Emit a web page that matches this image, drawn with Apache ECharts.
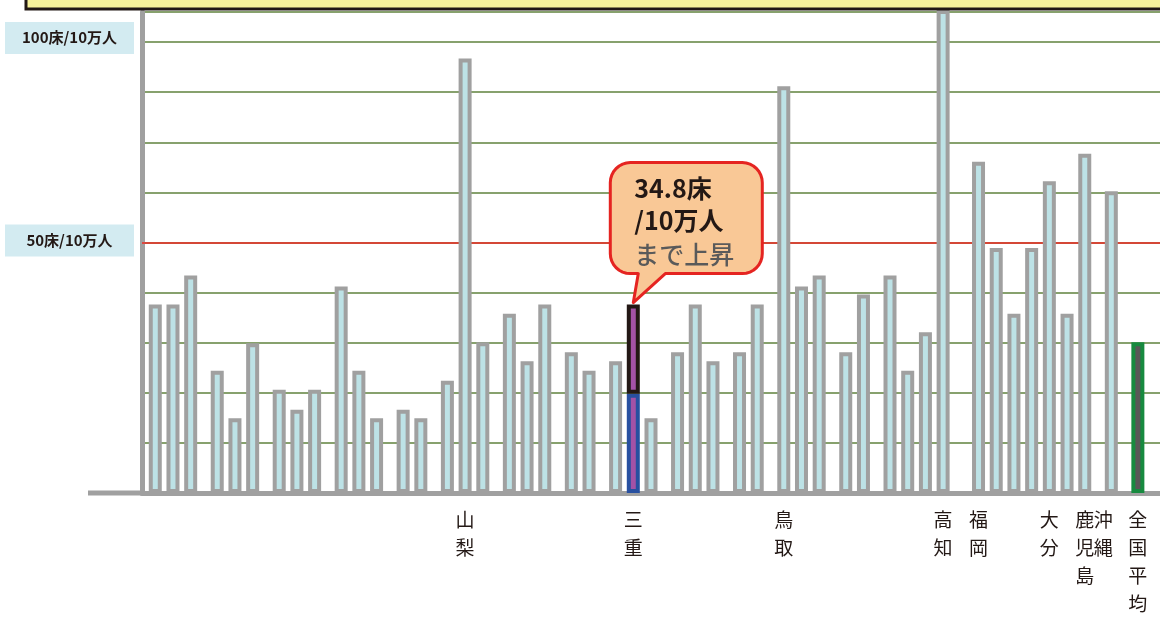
<!DOCTYPE html>
<html><head><meta charset="utf-8">
<script src="https://cdn.jsdelivr.net/npm/echarts@6/dist/echarts.min.js"></script>
<style>html,body{margin:0;padding:0;background:#fff;}#c{width:1160px;height:618px;}</style>
</head><body><div id="c"></div>
<script>
// ---- data ----
const barLabels = ['', '', '', '', '', '', '', '', '', '', '', '', '', '', '', '山梨', '', '', '', '', '', '', '', '三重', '', '', '', '', '', '', '鳥取', '', '', '', '', '', '', '', '高知', '福岡', '', '', '', '大分', '', '鹿児島', '沖縄', '全国平均'];
const bedValues = [37.6, 37.6, 43.4, 24.4, 14.9, 29.9, 20.6, 16.6, 20.6, 41.2, 24.4, 14.9, 16.6, 14.9, 22.4, 86.7, 30.1, 35.8, 26.3, 37.6, 28.1, 24.4, 26.3, 37.6, 14.9, 28.1, 37.6, 26.3, 28.1, 37.6, 81.2, 41.2, 43.4, 28.1, 39.6, 43.4, 24.4, 32.1, 110, 66.1, 48.9, 35.8, 48.9, 62.2, 35.8, 67.7, 60.2];
const nationalAverage = 30.1;
const mieIndex = 23;
const mieBefore = 19.8;
const mieAfter = 37.6;
const groupSizes = [3, 3, 3, 3, 2, 3, 3, 2, 3, 3, 2, 3, 2, 4, 7, 1, 1];
const yTickLabels = { 50: '50床/10万人', 90: '100床/10万人' };
const calloutLines = ['34.8床', '/10万人', 'まで上昇'];

// ---- layout: half-slot category positions ----
const positions = [];
let p = 1;
groupSizes.forEach((n, g) => {
  for (let k = 0; k < n; k++) { positions.push(p); if (k < n - 1) p += 2; }
  p += (g === 13 ? 4 : 3);
});
const N = 115;
const cats = new Array(N).fill('');
barLabels.forEach((l, i) => {
  if (!l) return;
  cats[positions[i]] = (l === '沖縄') ? { value: l, textStyle: { padding: [0, 16, 0, 0] } } : l;
});
const gray = new Array(N).fill(null);
const mieLow = new Array(N).fill(null);
const mieHigh = new Array(N).fill(null);
const avg = new Array(N).fill(null);
bedValues.forEach((v, i) => { if (i !== mieIndex) gray[positions[i]] = v; });
mieLow[positions[mieIndex]] = mieBefore;
mieHigh[positions[mieIndex]] = +(mieAfter - mieBefore).toFixed(1);
avg[positions[47]] = nationalAverage;

const FONT = '"Noto Sans CJK JP", "Noto Sans", sans-serif';
const chart = echarts.init(document.getElementById('c'));
const common = { type: 'bar', barWidth: 13, barGap: '-100%', animation: false };
chart.setOption({
  animation: false,
  grid: { left: 142, right: -4, top: 12, bottom: 121, containLabel: false },
  xAxis: {
    type: 'category', data: cats,
    axisLine: { show: true, lineStyle: { color: '#a0a0a0', width: 5 } },
    axisTick: { show: false },
    axisLabel: {
      interval: 0, margin: 13, fontSize: 19, lineHeight: 28, color: '#231815', fontFamily: FONT,
      formatter: v => v ? v.split('').join('\n') : ''
    },
    splitLine: { show: false }
  },
  yAxis: {
    type: 'value', min: 0, max: 96, interval: 10,
    axisLine: { show: true, lineStyle: { color: '#a0a0a0', width: 5 } },
    axisTick: { show: false },
    splitLine: { show: true, lineStyle: { color: '#5f823d', width: 1.5 } },
    axisLabel: {
      margin: 8, fontFamily: FONT,
      formatter: v => yTickLabels[v] ? '{b|' + yTickLabels[v] + '}\n{' + (v === 90 ? 's' : 't') + '| }' : '',
      rich: {
        b: { backgroundColor: '#d3ebf1', width: 105, align: 'center', padding: [8, 12, 9, 12], lineHeight: 16,
          fontSize: 15, fontWeight: 'bold', color: '#231815', fontFamily: FONT },
        s: { fontSize: 1, lineHeight: 8, height: 8 },
        t: { fontSize: 1, lineHeight: 4, height: 4 }
      }
    }
  },
  series: [
    { name: 'line50', type: 'line', data: [], z: 1, animation: false,
      markLine: { silent: true, symbol: 'none', z: 1, animation: false, label: { show: false },
        lineStyle: { color: '#ee2a24', width: 1.5, type: 'solid' }, data: [{ yAxis: 50 }] } },
    { ...common, name: 'prefs', data: gray, itemStyle: { color: '#bde2e6', borderColor: '#a0a0a0', borderWidth: 4 } },
    { ...common, name: 'mieLow', stack: 'mie', data: mieLow, itemStyle: { color: '#a452a6', borderColor: '#2850a0', borderWidth: 4 } },
    { ...common, name: 'mieHigh', stack: 'mie', data: mieHigh, itemStyle: { color: '#a452a6', borderColor: '#231815', borderWidth: 4 } },
    { ...common, name: 'avg', data: avg, itemStyle: { color: '#595757', borderColor: '#178a3f', borderWidth: 4 } }
  ]
});

// ---- decorations positioned from the chart's own scale ----
const tip = chart.convertToPixel({ xAxisIndex: 0, yAxisIndex: 0 }, [positions[mieIndex], mieAfter]);
const tx = tip[0], ty = tip[1] - 2;
const L = tx - 23, T = ty - 140, W = 152, H = 111, r = 20;
function arc(cx, cy, a0, a1) {
  const pts = [];
  for (let s = 0; s <= 8; s++) {
    const a = a0 + (a1 - a0) * s / 8;
    pts.push([cx + r * Math.cos(a), cy + r * Math.sin(a)]);
  }
  return pts;
}
const PI = Math.PI;
const bubble = [].concat(
  arc(L + r, T + r, PI, 1.5 * PI),
  arc(L + W - r, T + r, 1.5 * PI, 2 * PI),
  arc(L + W - r, T + H - r, 0, 0.5 * PI),
  [[tx + 32, T + H], [tx, ty], [tx + 5, T + H]],
  arc(L + r, T + H - r, 0.5 * PI, PI)
);
const axisY = chart.convertToPixel({ yAxisIndex: 0 }, 0);
chart.setOption({
  graphic: [
    { type: 'rect', z: 100, shape: { x: 26, y: -10, width: 1150, height: 19 }, style: { fill: '#f8f29b', stroke: '#231815', lineWidth: 3 } },
    { type: 'rect', z: 1, shape: { x: 88, y: axisY - 2.5, width: 54, height: 5 }, style: { fill: '#a0a0a0' } },
    { type: 'polygon', z: 100, shape: { points: bubble }, style: { fill: '#f9c896', stroke: '#e52421', lineWidth: 3, lineJoin: 'round' } },
    { type: 'text', z: 101, style: { x: L + 24, y: T + 26, text: calloutLines[0], font: 'bold 25px ' + FONT, fill: '#231815', verticalAlign: 'middle', align: 'left' } },
    { type: 'text', z: 101, style: { x: L + 24, y: T + 58, text: calloutLines[1], font: 'bold 25px ' + FONT, fill: '#231815', verticalAlign: 'middle', align: 'left' } },
    { type: 'text', z: 101, style: { x: L + 24, y: T + 92, text: calloutLines[2], font: '500 25px ' + FONT, fill: '#5a5a5a', verticalAlign: 'middle', align: 'left' } }
  ]
});
</script></body></html>
